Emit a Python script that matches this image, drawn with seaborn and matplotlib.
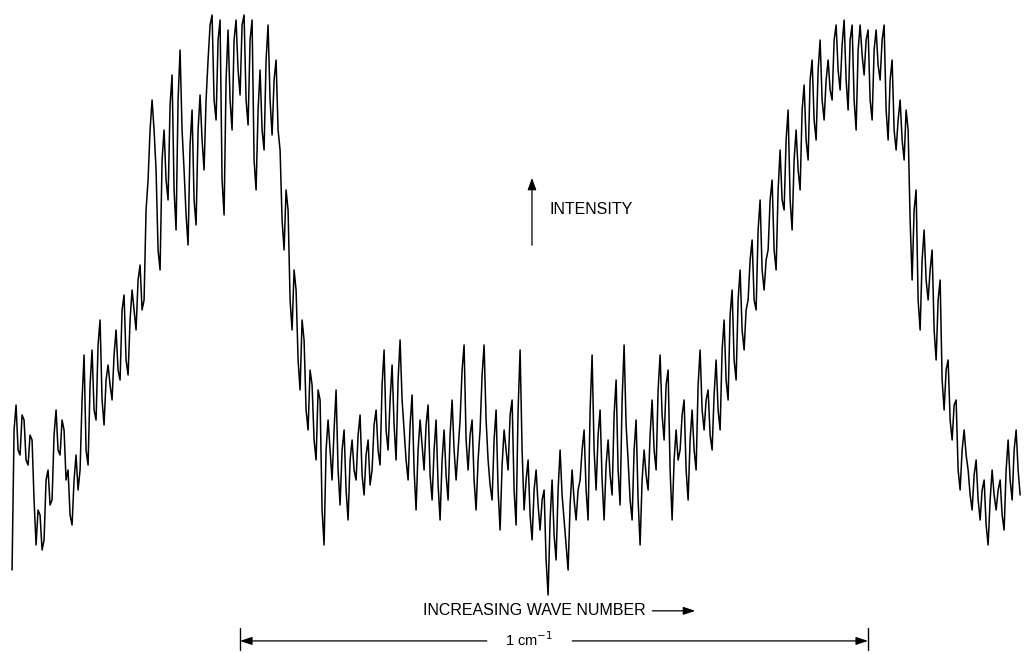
import numpy as np
import pandas as pd
import matplotlib
matplotlib.use("Agg")
import matplotlib.pyplot as plt
import seaborn as sns

# Recorder trace: pen deflection (arbitrary intensity units) sampled at a
# regular step in wave number.
NU_START = -0.363          # cm^-1, relative to the left end of the scale bar
NU_STEP = 0.003185         # cm^-1 between samples

intensity = [
    # left wing
    30, 170, 195, 150, 145, 185, 180, 140, 135, 165, 160, 100, 55, 90, 85, 50,
    60, 120, 130, 95, 100, 165, 190, 150, 145, 180, 170, 120, 130, 85, 75, 120,
    145, 110, 130, 200, 245, 150, 135, 215, 250, 190, 180, 255, 280, 200, 175, 220,
    235, 215, 200, 245, 270, 230, 220, 290, 305, 240, 225, 280, 310, 290, 270, 320,
    # first band
    335, 290, 300, 390, 420, 470, 500, 470, 430, 350, 330, 440, 470, 420, 400, 495,
    525, 410, 370, 500, 550, 470, 430, 385, 355, 455, 490, 400, 375, 470, 505, 460,
    430, 500, 540, 575, 585, 500, 480, 560, 580, 420, 385, 520, 570, 500, 470, 560,
    580, 530, 505, 575, 585, 500, 475, 560, 580, 440, 410, 490, 530, 470, 450, 540,
    575, 500, 465, 520, 540, 470, 450, 380, 350, 410, 390, 300, 270, 330, 310, 240,
    210, 280, 260, 190, 170, 230, 215, 160, 140, 210, 200, 90, 55, 150, 180, 150,
    # trough between the bands
    120, 170, 210, 130, 95, 150, 170, 110, 80, 140, 160, 130, 120, 165, 185, 125,
    105, 145, 160, 115, 130, 175, 190, 150, 135, 215, 250, 170, 150, 200, 235, 175,
    140, 220, 260, 200, 170, 140, 120, 175, 205, 130, 90, 150, 180, 155, 130, 175,
    195, 125, 100, 150, 180, 115, 80, 140, 170, 125, 100, 165, 200, 150, 120, 150,
    180, 230, 255, 160, 130, 165, 180, 120, 90, 140, 170, 225, 255, 180, 140, 115,
    100, 160, 190, 110, 70, 135, 170, 150, 130, 185, 200, 110, 75, 190, 250, 150,
    90, 120, 140, 85, 60, 110, 130, 95, 70, 100, 110, 40, 5, 80, 120, 65,
    40, 110, 150, 105, 80, 55, 30, 95, 130, 100, 80, 110, 120, 150, 170, 110,
    80, 190, 245, 150, 110, 165, 190, 120, 80, 135, 160, 125, 105, 185, 220, 130,
    95, 200, 255, 175, 140, 100, 80, 150, 180, 100, 55, 120, 150, 125, 110, 165,
    200, 150, 130, 210, 245, 185, 160, 215, 230, 130, 80, 140, 170, 140, 150, 185,
    200, 130, 100, 160, 190, 150, 130, 215, 250, 190, 170, 200, 210, 165, 150, 205,
    # second band
    240, 190, 170, 250, 280, 220, 200, 285, 310, 240, 220, 300, 330, 270, 250, 290,
    300, 340, 360, 300, 290, 370, 400, 330, 310, 340, 350, 400, 420, 350, 330, 410,
    450, 400, 390, 460, 490, 400, 370, 440, 470, 430, 410, 490, 515, 460, 440, 520,
    540, 480, 460, 530, 560, 500, 480, 520, 540, 510, 500, 560, 575, 530, 510, 555,
    580, 520, 490, 560, 575, 500, 470, 550, 575, 545, 525, 560, 570, 500, 480, 550,
    570, 535, 520, 560, 575, 490, 460, 520, 540, 470, 450, 480, 500, 460, 440, 490,
    470, 380, 320, 390, 410, 300, 270, 340, 370, 320, 300, 330, 350, 270, 240, 300,
    320, 220, 190, 230, 240, 180, 160, 195, 200, 130, 110, 150, 170, 145, 130, 105,
    # right wing
    90, 125, 140, 100, 80, 110, 120, 75, 55, 100, 130, 105, 90, 110, 120, 85,
    70, 130, 160, 120, 100, 150, 170, 130, 105,
]
wave_number = NU_START + NU_STEP * np.arange(len(intensity))
trace = pd.DataFrame({"wave_number": wave_number, "intensity": intensity})

sns.set_theme(style="white")
plt.rcParams["font.family"] = ["Liberation Sans", "DejaVu Sans"]

fig = plt.figure(figsize=(10.24, 6.54), dpi=100)
ax = fig.add_axes([0, 0, 1, 1])
sns.lineplot(data=trace, x="wave_number", y="intensity", ax=ax,
             color="black", linewidth=1.1, estimator=None, sort=False)

ax.set_xlim(-0.3822, 1.2484)
ax.set_ylim(-54, 600)
ax.set_axis_off()

arrow_style = "-|>,head_length=0.6,head_width=0.2"

# Intensity direction marker
ax.annotate("", xy=(0.5195, 0.728), xytext=(0.5195, 0.625),
            xycoords="axes fraction",
            arrowprops=dict(arrowstyle="-|>,head_length=0.6,head_width=0.22",
                            color="black", lw=0.9, shrinkA=0, shrinkB=0))
ax.text(0.537, 0.680, "INTENSITY", transform=ax.transAxes,
        fontsize=11.5, ha="left", va="center", color="black")

# Direction of increasing wave number
ax.text(0.522, 0.066, "INCREASING WAVE NUMBER", transform=ax.transAxes,
        fontsize=11.5, ha="center", va="center", color="black")
ax.annotate("", xy=(0.679, 0.066), xytext=(0.637, 0.066),
            xycoords="axes fraction",
            arrowprops=dict(arrowstyle=arrow_style, color="black", lw=0.9,
                            shrinkA=0, shrinkB=0))

# 1 cm^-1 scale bar
tr = ax.get_xaxis_transform()
bar_y = 0.020
for end in (0.0, 1.0):
    ax.plot([end, end], [0.006, 0.040], transform=tr, color="black", lw=1.0)
ax.annotate("", xy=(0.0, bar_y), xytext=(0.393, bar_y), xycoords=tr,
            arrowprops=dict(arrowstyle=arrow_style, color="black", lw=0.9,
                            shrinkA=0, shrinkB=0))
ax.annotate("", xy=(1.0, bar_y), xytext=(0.529, bar_y), xycoords=tr,
            arrowprops=dict(arrowstyle=arrow_style, color="black", lw=0.9,
                            shrinkA=0, shrinkB=0))
ax.text(0.46, bar_y + 0.002, r"1 cm$^{-1}$", transform=tr, fontsize=10.5,
        ha="center", va="center", color="black")

fig.savefig("out.png", dpi=100, facecolor="white")
